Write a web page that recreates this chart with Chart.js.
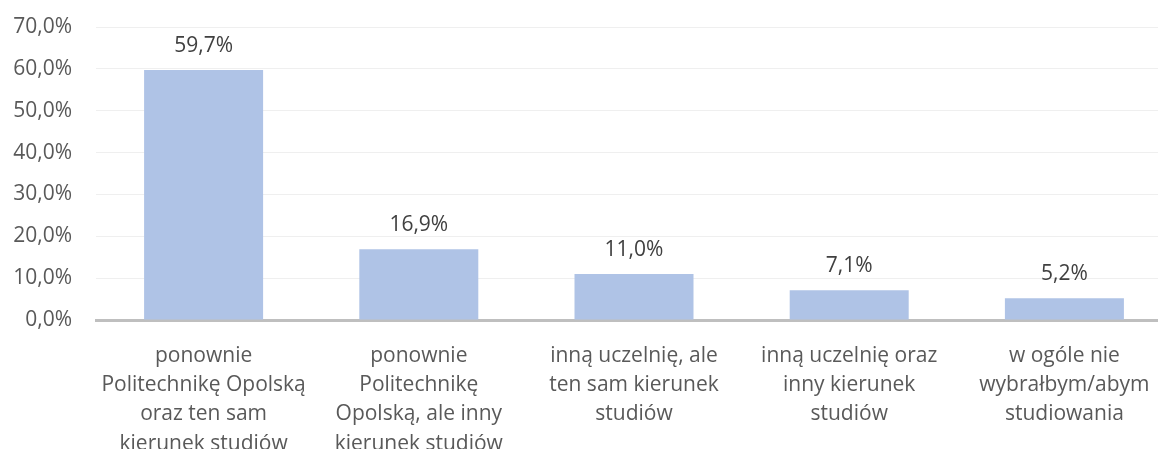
<!DOCTYPE html>
<html>
<head>
<meta charset="utf-8">
<script src="https://cdn.jsdelivr.net/npm/chart.js@4/dist/chart.umd.min.js"></script>
<style>
  body { margin: 0; background: #fff; overflow: hidden; }
  #wrap { width: 1172px; height: 449px; position: relative; }
</style>
</head>
<body>
<div id="wrap"><canvas id="myChart"></canvas></div>
<script>
// data
let categories = [
  ['ponownie', 'Politechnikę Opolską', 'oraz ten sam', 'kierunek studiów'],
  ['ponownie', 'Politechnikę', 'Opolską, ale inny', 'kierunek studiów'],
  ['inną uczelnię, ale', 'ten sam kierunek', 'studiów'],
  ['inną uczelnię oraz', 'inny kierunek', 'studiów'],
  ['w ogóle nie', 'wybrałbym/abym', 'studiowania']
]
let values = [59.7, 16.9, 11.0, 7.1, 5.2]
let yTicks = [0, 10, 20, 30, 40, 50, 60, 70]

const FONT = '"Open Sans", Lato, sans-serif'

function pct(v) {
  return v.toFixed(1).replace('.', ',') + '%'
}

// labels above the bars
const barLabels = {
  id: 'barLabels',
  afterDatasetsDraw(chart) {
    let ctx = chart.ctx
    let meta = chart.getDatasetMeta(0)
    ctx.save()
    ctx.font = '21px ' + FONT
    ctx.fillStyle = '#404040'
    ctx.textAlign = 'center'
    ctx.textBaseline = 'middle'
    meta.data.forEach((bar, i) => {
      ctx.fillText(pct(values[i]), bar.x, bar.y - 24)
    })
    ctx.restore()
  }
}

let ctx = document.getElementById('myChart').getContext('2d')

let myBarChart = new Chart(ctx, {
  type: 'bar',
  data: {
    labels: categories,
    datasets: [{
      data: values,
      backgroundColor: '#AFC3E6',
      borderWidth: 0,
      barPercentage: 0.553,
      categoryPercentage: 1
    }]
  },
  options: {
    responsive: true,
    maintainAspectRatio: false,
    animation: false,
    layout: { padding: { top: 27, right: 0, left: 0, bottom: 0 } },
    plugins: {
      legend: { display: false },
      tooltip: { enabled: false }
    },
    scales: {
      y: {
        min: 0,
        max: 70,
        afterBuildTicks: (scale) => { scale.ticks = yTicks.map(v => ({ value: v })) },
        afterFit: (scale) => { scale.width = 96 },
        border: { display: false },
        // invisible tick marks keep the labels away from the plot
        grid: { color: '#EFEFEF', lineWidth: 1, drawTicks: true, tickLength: 24, tickColor: 'rgba(0,0,0,0)' },
        ticks: {
          padding: 0,
          color: '#595959',
          font: { family: FONT, size: 21 },
          callback: (v) => pct(v)
        }
      },
      x: {
        afterFit: (scale) => { scale.height = 129 },
        border: { display: true, color: '#BFBFBF', width: 3 },
        grid: { display: false },
        ticks: {
          padding: 13,
          maxRotation: 0,
          autoSkip: false,
          color: '#595959',
          font: { family: FONT, size: 21, lineHeight: 1.4 }
        }
      }
    }
  },
  plugins: [barLabels]
})
</script>
</body>
</html>
